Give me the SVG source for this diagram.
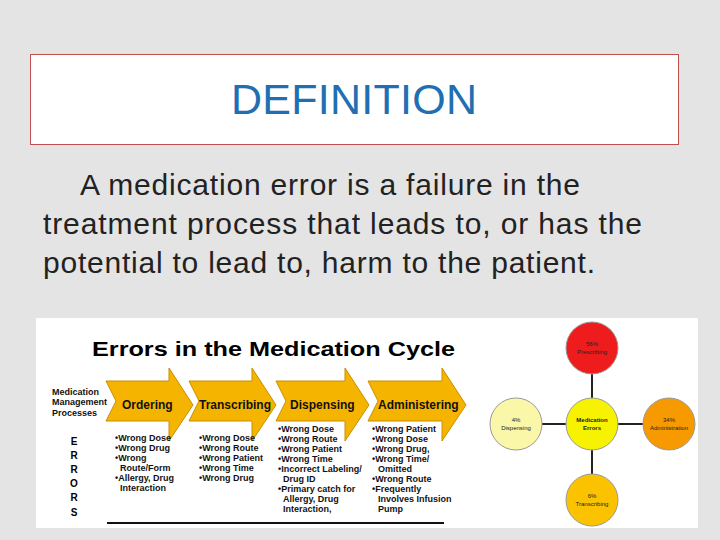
<svg xmlns="http://www.w3.org/2000/svg" width="720" height="540" viewBox="0 0 720 540">
<style>
.b{font-family:"Liberation Sans",Arial,sans-serif;font-weight:bold}
.l{font-size:9px;fill:#111}
.ah{fill:#f5b400;stroke:#c98f00;stroke-width:1}
.al{font-size:12px;fill:#111}
.c{stroke:#222;stroke-width:2}
.ct{font-family:"Liberation Sans",Arial,sans-serif;font-size:6px;fill:#222;text-anchor:middle}
</style>
<rect width="720" height="540" fill="#e4e4e4"/>
<g id="title"><rect x="30.5" y="54.5" width="648" height="90" fill="#fff" stroke="#c0504d"/>
<text x="354" y="114" text-anchor="middle" font-family="Liberation Sans,Arial,sans-serif" font-size="43" fill="#1f6fb2" textLength="246">DEFINITION</text></g>
<g id="def" font-family="Liberation Sans,Arial,sans-serif" font-size="30" fill="#222">
<text x="80" y="195" textLength="500">A medication error is a failure in the</text>
<text x="43" y="234" textLength="599">treatment process that leads to, or has the</text>
<text x="43" y="273" textLength="552">potential to lead to, harm to the patient.</text></g>
<rect x="36" y="318" width="662" height="210" fill="#fff"/>
<text class="b" x="92" y="356" font-size="21" textLength="363" lengthAdjust="spacingAndGlyphs">Errors in the Medication Cycle</text>
<g class="b l"><text x="52" y="395">Medication</text><text x="52" y="405">Management</text><text x="52" y="416">Processes</text></g>
<g class="b" font-size="10" text-anchor="middle"><text x="74" y="445">E</text><text x="74" y="459">R</text><text x="74" y="473">R</text><text x="74" y="487">O</text><text x="74" y="501">R</text><text x="74" y="516">S</text></g>
<g id="arrows">
<path class="ah" d="M106,381 H169 V368 L193,405 L169,441 V421 H106 L116,401 Z"/>
<path class="ah" d="M189,381 H252 V368 L276,405 L252,441 V421 H189 L199,401 Z"/>
<path class="ah" d="M276,381 H345 V368 L369,405 L345,441 V421 H276 L286,401 Z"/>
<path class="ah" d="M368,381 H442 V368 L466,405 L442,441 V421 H368 L378,401 Z"/>
<g class="b al"><text x="122" y="409">Ordering</text><text x="199" y="409">Transcribing</text><text x="290" y="409">Dispensing</text><text x="378" y="409">Administering</text></g>
</g>
<g class="b l">
<text x="115" y="441">•Wrong Dose</text><text x="115" y="451">•Wrong Drug</text><text x="115" y="461">•Wrong</text><text x="120" y="471">Route/Form</text><text x="115" y="481">•Allergy, Drug</text><text x="120" y="491">Interaction</text>
<text x="199" y="441">•Wrong Dose</text><text x="199" y="451">•Wrong Route</text><text x="199" y="461">•Wrong Patient</text><text x="199" y="471">•Wrong Time</text><text x="199" y="481">•Wrong Drug</text>
<text x="278" y="432">•Wrong Dose</text><text x="278" y="442">•Wrong Route</text><text x="278" y="452">•Wrong Patient</text><text x="278" y="462">•Wrong Time</text><text x="278" y="472">•Incorrect Labeling/</text><text x="283" y="482">Drug ID</text><text x="278" y="492">•Primary catch for</text><text x="283" y="502">Allergy, Drug</text><text x="283" y="512">Interaction,</text>
<text x="372" y="432">•Wrong Patient</text><text x="372" y="442">•Wrong Dose</text><text x="372" y="452">•Wrong Drug,</text><text x="372" y="462">•Wrong Time/</text><text x="378" y="472">Omitted</text><text x="372" y="482">•Wrong Route</text><text x="372" y="492">•Frequently</text><text x="378" y="502">Involves Infusion</text><text x="378" y="512">Pump</text>
</g>
<line x1="107" y1="523" x2="444" y2="523" stroke="#111" stroke-width="2"/>
<g id="connectors"><line class="c" x1="592" y1="372" x2="592" y2="474"/><line class="c" x1="541" y1="424" x2="650" y2="424"/></g>
<g id="n-pres"><circle cx="592" cy="348" r="26" fill="#ee1c1c" stroke="#999"/><text class="ct" x="592" y="346">56%</text><text class="ct" x="592" y="354">Prescribing</text></g>
<g id="n-center"><circle cx="592" cy="424" r="26" fill="#f7f200" stroke="#999"/><text class="ct b" x="592" y="422">Medication</text><text class="ct b" x="592" y="430">Errors</text></g>
<g id="n-disp"><circle cx="516" cy="424" r="26" fill="#fbf7a8" stroke="#999"/><text class="ct" x="516" y="422">4%</text><text class="ct" x="516" y="430">Dispensing</text></g>
<g id="n-admin"><circle cx="669" cy="424" r="26" fill="#f79a00" stroke="#999"/><text class="ct" x="669" y="422">34%</text><text class="ct" x="669" y="430">Administration</text></g>
<g id="n-trans"><circle cx="592" cy="500" r="26" fill="#fbc200" stroke="#999"/><text class="ct" x="592" y="498">6%</text><text class="ct" x="592" y="506">Transcribing</text></g>
</svg>
